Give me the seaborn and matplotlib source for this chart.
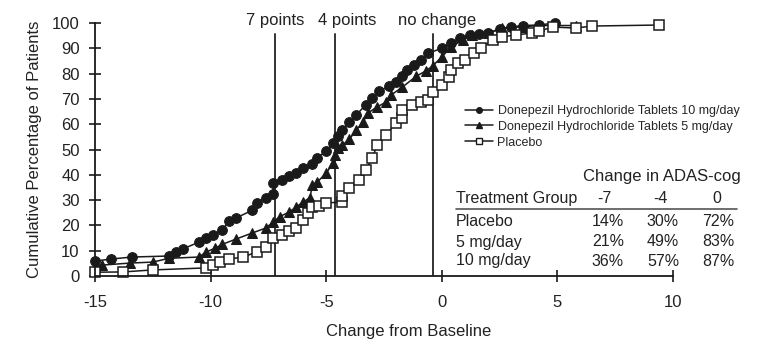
import matplotlib
matplotlib.use('Agg')
import matplotlib.pyplot as plt
import seaborn as sns
from matplotlib.lines import Line2D

# cumulative distribution of ADAS-cog change
x_10mg = [-15.0, -14.3, -13.4, -11.8, -11.5, -11.2, -10.5, -10.2, -9.9, -9.5, -9.2, -8.9,
          -8.2, -8.0, -7.6, -7.3, -7.3, -6.9, -6.6, -6.3, -6.0, -5.6, -5.4, -5.0, -4.7, -4.5,
          -4.3, -4.0, -3.7, -3.3, -3.0, -2.7, -2.3, -2.0, -1.7, -1.5, -1.2, -0.9, -0.6, 0.0,
          0.4, 0.8, 1.2, 1.6, 2.0, 2.5, 3.0, 3.5, 4.2, 4.9]
y_10mg = [5.9, 6.7, 7.5, 7.9, 9.5, 10.7, 13.4, 15.0, 16.2, 18.2, 21.7, 22.9,
          26.0, 29.0, 31.0, 32.4, 36.8, 38.0, 39.5, 40.7, 42.7, 44.3, 46.6, 49.5, 52.5, 55.5,
          57.7, 61.0, 63.6, 67.6, 70.4, 73.0, 75.0, 76.7, 79.0, 81.4, 83.5, 85.4, 88.0, 90.0,
          92.0, 94.0, 95.3, 95.8, 96.0, 97.5, 98.4, 99.0, 99.2, 100.0]

x_5mg = [-15.0, -14.7, -13.5, -12.5, -11.8, -10.5, -10.2, -9.8, -9.5, -8.9, -8.2, -7.6,
         -7.3, -7.0, -6.6, -6.3, -6.0, -5.7, -5.6, -5.4, -5.0, -4.7, -4.6, -4.5, -4.3, -4.0,
         -3.7, -3.4, -3.2, -2.8, -2.4, -2.2, -1.7, -1.1, -0.7, -0.4, 0.0, 0.4, 0.9, 1.3,
         2.0, 2.6, 3.5, 4.2, 5.8]
y_5mg = [3.6, 4.3, 5.1, 5.5, 7.0, 7.5, 9.5, 11.0, 12.5, 14.6, 17.0, 19.0,
         21.3, 23.5, 25.3, 27.3, 29.2, 31.0, 36.0, 37.0, 40.7, 44.6, 47.8, 50.6, 51.8, 54.0,
         57.7, 60.9, 64.4, 66.8, 68.8, 71.5, 74.7, 79.0, 81.0, 83.0, 86.6, 90.5, 93.3, 95.3,
         96.0, 98.0, 98.5, 99.0, 99.0]

x_pbo = [-15.0, -13.8, -12.5, -10.2, -9.9, -9.6, -9.2, -8.6, -8.0, -7.6, -7.3, -6.9,
         -6.6, -6.3, -6.0, -5.8, -5.6, -5.3, -5.0, -4.3, -4.3, -4.0, -3.6, -3.3, -3.0, -2.8,
         -2.4, -2.0, -1.7, -1.7, -1.3, -0.9, -0.6, -0.4, 0.0, 0.3, 0.4, 0.7, 1.0, 1.4,
         1.7, 2.2, 2.6, 3.2, 3.9, 4.2, 4.8, 5.8, 6.5, 9.4]
y_pbo = [1.5, 1.6, 2.4, 3.2, 4.3, 5.5, 6.7, 7.5, 9.5, 11.5, 15.0, 16.2,
         17.8, 19.0, 22.0, 24.9, 27.3, 27.5, 28.9, 29.2, 31.5, 34.8, 38.0, 41.9, 46.6, 51.8,
         55.7, 60.5, 62.5, 65.6, 67.6, 68.8, 69.6, 72.7, 75.5, 78.7, 81.4, 84.2, 85.4, 88.0,
         90.0, 93.3, 94.5, 95.3, 96.0, 96.8, 98.4, 98.0, 98.8, 99.2]

series_labels = ['Donepezil Hydrochloride Tablets 10 mg/day',
                 'Donepezil Hydrochloride Tablets 5 mg/day',
                 'Placebo']

# threshold lines and their captions
cut_x = [-7.2, -4.6, -0.4]
cut_label_x = [-7.2, -4.1, -0.2]
cut_labels = ['7 points', '4 points', 'no change']

# table
table_title = 'Change in ADAS-cog'
table_cols = ['-7', '-4', '0']
table_rows = ['Placebo', '5 mg/day', '10 mg/day']
table_vals = [[14, 30, 72], [21, 49, 83], [36, 57, 87]]

sns.set_style('white')
plt.rcParams['font.family'] = ['Liberation Sans', 'DejaVu Sans']
plt.rcParams['axes.unicode_minus'] = False

fig = plt.figure(figsize=(7.68, 3.61), dpi=100)
ax = fig.add_axes([95 / 768, 1 - 276 / 361, 578 / 768, 253 / 361])

dark = '#1a1a1a'
sns.lineplot(x=x_10mg, y=y_10mg, ax=ax, sort=False, estimator=None, color=dark,
             lw=1.1, marker='o', ms=7, mfc=dark, mec=dark, clip_on=False)
sns.lineplot(x=x_5mg, y=y_5mg, ax=ax, sort=False, estimator=None, color=dark,
             lw=1.1, marker='^', ms=7, mfc=dark, mec=dark, clip_on=False)
sns.lineplot(x=x_pbo, y=y_pbo, ax=ax, sort=False, estimator=None, color=dark,
             lw=1.1, marker='s', ms=6.5, mfc='white', mec=dark, mew=1.1, clip_on=False)

for cx, lx, lab in zip(cut_x, cut_label_x, cut_labels):
    ax.plot([cx, cx], [0, 95.5], color='#333333', lw=1.4, zorder=1)
    ax.text(lx, 101, lab, ha='center', va='center', fontsize=12, color='#222222',
            clip_on=False)

ax.set_xlim(-15, 10)
ax.set_ylim(0, 100)
ax.set_xticks([-15, -10, -5, 0, 5, 10])
ax.set_yticks(range(0, 101, 10))
sns.despine(ax=ax)
for s in ['left', 'bottom']:
    ax.spines[s].set_color(dark)
    ax.spines[s].set_linewidth(1.3)
ax.tick_params(bottom=True, left=True, direction='inout', length=8, width=1.2, color=dark,
               labelsize=12, labelcolor='#222222')
ax.tick_params(axis='x', pad=10)
ax.tick_params(axis='y', pad=7)
ax.set_xlabel('Change from Baseline', fontsize=12, color='#222222')
ax.set_ylabel('Cumulative Percentage of Patients', fontsize=12, color='#222222')
ax.xaxis.set_label_coords(0.543, -0.19)
ax.yaxis.set_label_coords(-0.092, 0.5)

handles = [
    Line2D([], [], color=dark, lw=1.1, marker='o', ms=4, mfc=dark, mec=dark),
    Line2D([], [], color=dark, lw=1.1, marker='^', ms=4, mfc=dark, mec=dark),
    Line2D([], [], color=dark, lw=1.1, marker='s', ms=4, mfc='white', mec=dark),
]
fig.legend(handles, series_labels, loc='upper left', bbox_to_anchor=(465 / 768, 1 - 105 / 361),
           frameon=False, handlelength=2.2, handletextpad=0.4,
           labelspacing=0.3, borderpad=0, borderaxespad=0,
           prop={'size': 9})

# the table under the legend
col_px = [604, 660, 717]
val_px = [608, 663, 718]
row_py = [222, 242, 261]
tc = '#222222'
fs = 11.5
fig.text(662 / 768, 1 - 177 / 361, table_title, ha='center', va='center', fontsize=fs + 0.5, color=tc)
fig.text(456 / 768, 1 - 199 / 361, 'Treatment Group', ha='left', va='center', fontsize=fs, color=tc)
for cp, c in zip(col_px, table_cols):
    fig.text(cp / 768, 1 - 199 / 361, c, ha='center', va='center', fontsize=fs, color=tc)
fig.add_artist(Line2D([456 / 768, 737 / 768], [1 - 208.5 / 361, 1 - 208.5 / 361],
                      color='#555555', lw=1.2))
for rp, rname, vals in zip(row_py, table_rows, table_vals):
    fig.text(456 / 768, 1 - rp / 361, rname, ha='left', va='center', fontsize=fs, color=tc)
    for vp, v in zip(val_px, vals):
        fig.text(vp / 768, 1 - rp / 361, f'{v}%', ha='center', va='center', fontsize=fs, color=tc)

fig.savefig('out.png', dpi=100)
